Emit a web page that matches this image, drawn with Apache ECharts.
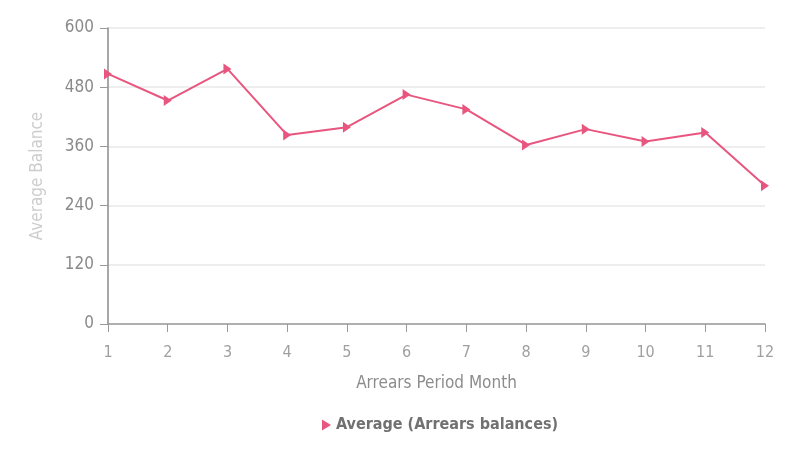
<!DOCTYPE html>
<html>
<head>
<meta charset="utf-8">
<script src="https://cdn.jsdelivr.net/npm/echarts@6/dist/echarts.min.js"></script>
<style>
  html, body { margin: 0; padding: 0; background: #ffffff; }
  #chart { width: 795px; height: 450px; }
</style>
</head>
<body>
<div id="chart"></div>
<script>
// Arrears period months along the x axis
const months = ['1', '2', '3', '4', '5', '6', '7', '8', '9', '10', '11', '12'];
// Average arrears balance per month
const avgBalance = [507, 453, 517, 383, 399, 465, 435, 363, 395, 370, 388, 280];
// Value axis range
const yMin = 0;
const yMax = 600;
const yStep = 120;

const pink = '#e8567f';
const arrow = 'path://M0,0 L10,6 L0,12 Z';
const condensed = 'DejaVu Sans Condensed';

const chart = echarts.init(document.getElementById('chart'));
chart.setOption({
  animation: false,
  backgroundColor: '#ffffff',
  textStyle: { fontFamily: condensed },
  grid: { left: 108, right: 30, top: 28, bottom: 126 },
  legend: {
    bottom: 12,
    left: 317,
    itemWidth: 9,
    itemHeight: 16,
    itemGap: 6,
    icon: arrow,
    textStyle: { color: '#717171', fontSize: 16, fontWeight: 'bold', fontFamily: condensed },
    data: ['Average (Arrears balances)']
  },
  xAxis: {
    type: 'category',
    data: months,
    boundaryGap: false,
    name: 'Arrears Period Month',
    nameLocation: 'middle',
    nameGap: 51,
    nameTextStyle: { color: '#8c8c8c', fontSize: 17, fontFamily: condensed },
    axisLine: { lineStyle: { color: '#9a9a9a', width: 1.5 } },
    axisTick: { alignWithLabel: true, length: 8, lineStyle: { color: '#9a9a9a' } },
    axisLabel: { color: '#a0a0a0', fontSize: 16, margin: 21 },
    splitLine: { show: false }
  },
  yAxis: {
    type: 'value',
    min: yMin,
    max: yMax,
    interval: yStep,
    name: 'Average Balance',
    nameLocation: 'middle',
    nameGap: 62,
    nameRotate: 90,
    nameTextStyle: { color: '#cdcdcd', fontSize: 17, fontFamily: condensed },
    axisLine: { show: true, lineStyle: { color: '#8a8a8a', width: 1.5 } },
    axisTick: { show: true, length: 8, lineStyle: { color: '#9a9a9a' } },
    axisLabel: { color: '#8a8a8a', fontSize: 17, margin: 14 },
    splitLine: { lineStyle: { color: '#e8e8e8', width: 1.5 } }
  },
  series: [{
    name: 'Average (Arrears balances)',
    type: 'line',
    data: avgBalance,
    symbol: arrow,
    symbolSize: [8, 11],
    itemStyle: { color: pink },
    lineStyle: { color: pink, width: 2 }
  }]
});
</script>
</body>
</html>
